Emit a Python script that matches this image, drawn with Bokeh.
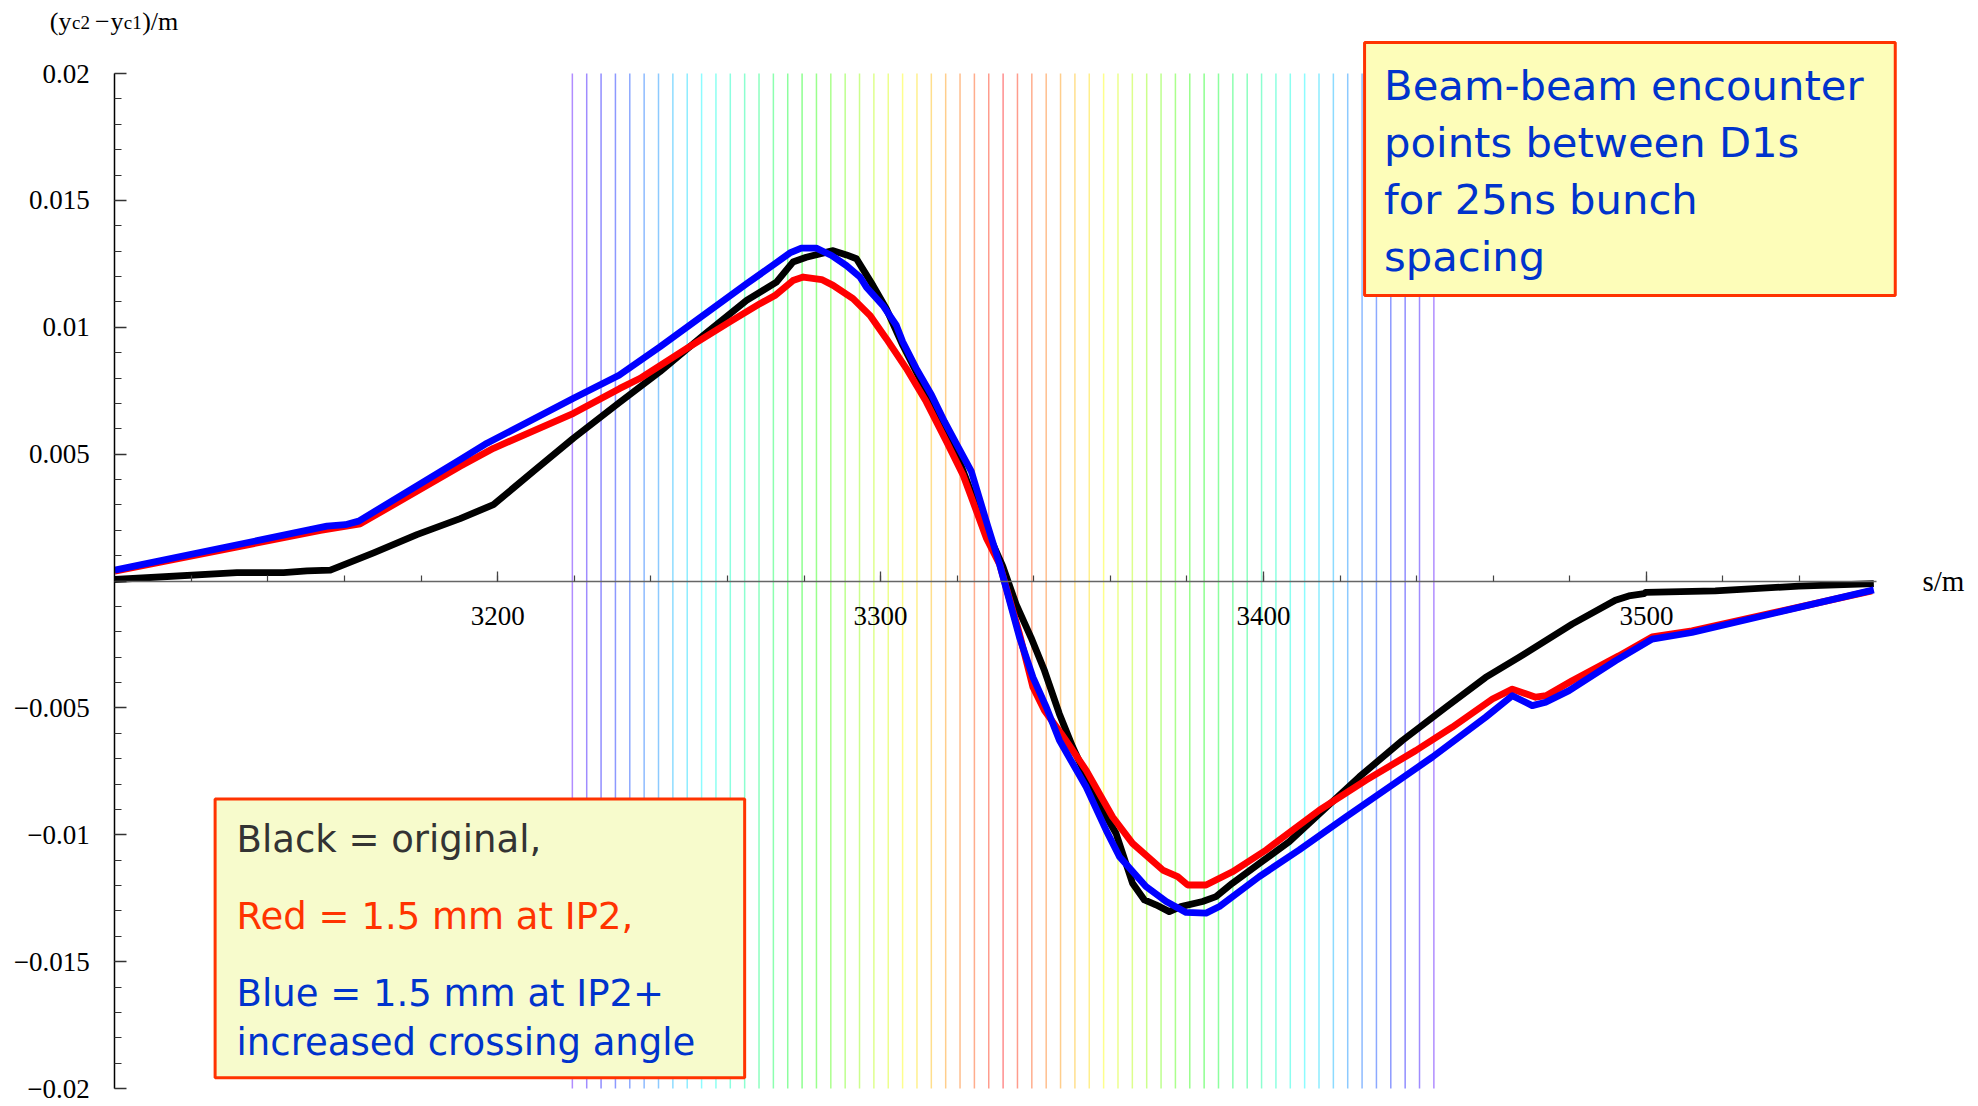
import colorsys
from bokeh.plotting import figure
from bokeh.models import (Range1d, LinearAxis, FixedTicker, CustomJSTickFormatter,
                          Label, ColumnDataSource)
from bokeh.core.properties import value
from bokeh.embed import file_html
from bokeh.resources import INLINE

# ---------------- data (s in m, separation in m) ----------------
black_s = [3100, 3131.9, 3144.1, 3150.2, 3156.3, 3167.6, 3178.9, 3190.2, 3198.9, 3209.3,
           3219.8, 3231.5, 3242.4, 3253.7, 3265.0, 3272.8, 3277.1, 3280.6, 3284.1, 3287.6,
           3291.1, 3293.7, 3298.0, 3301.5, 3305.8, 3310.2, 3315.4, 3320.6, 3325.9, 3331.9,
           3335.4, 3339.3, 3342.8, 3346.7, 3350.2, 3354.6, 3358.0, 3361.5, 3365.8, 3368.9,
           3371.9, 3375.4, 3378.4, 3384.1, 3387.6, 3391.9, 3398.9, 3406.7, 3414.6, 3425.0,
           3436.3, 3447.6, 3458.0, 3466.7, 3480.6, 3491.9, 3495.4, 3499.4, 3499.8, 3518.0,
           3539.8, 3559.4]
black_y = [0.00006, 0.00033, 0.00033, 0.00040, 0.00043, 0.00111, 0.00183, 0.00246, 0.00301, 0.00432,
           0.00563, 0.00700, 0.00825, 0.00968, 0.01106, 0.01178, 0.01257, 0.01276, 0.01289, 0.01302,
           0.01285, 0.01270, 0.01165, 0.01073, 0.00929, 0.00798, 0.00628, 0.00471, 0.00262, 0.00059,
           -0.00092, -0.00223, -0.00353, -0.00524, -0.00655, -0.00799, -0.00903, -0.00995, -0.01191, -0.01257,
           -0.01276, -0.01303, -0.01283, -0.01263, -0.01244, -0.01191, -0.01113, -0.01028, -0.00917, -0.00772,
           -0.00628, -0.00498, -0.00380, -0.00301, -0.00170, -0.00076, -0.00059, -0.00050, -0.00045, -0.00039,
           -0.00020, -0.00010]

red_s = [3100, 3153.7, 3164.1, 3190.2, 3198.9, 3219.8, 3231.9, 3237.1, 3249.3, 3260.6,
         3268.5, 3272.4, 3277.1, 3279.8, 3284.6, 3287.6, 3292.8, 3297.2, 3301.5, 3306.7,
         3311.9, 3317.2, 3321.5, 3324.1, 3327.6, 3331.1, 3336.3, 3339.8, 3342.8, 3347.2,
         3353.7, 3360.6, 3365.8, 3373.7, 3377.6, 3380.2, 3385.0, 3391.9, 3400.7, 3414.6,
         3426.8, 3439.8, 3449.3, 3459.8, 3465.0, 3471.1, 3473.8, 3480.6, 3492.8, 3501.5,
         3511.9, 3558.9]
red_y = [0.00039, 0.00199, 0.00225, 0.00452, 0.00523, 0.00661, 0.00759, 0.00798, 0.00916, 0.01021,
         0.01093, 0.01125, 0.01184, 0.01198, 0.01188, 0.01165, 0.01113, 0.01047, 0.00955, 0.00838,
         0.00707, 0.00550, 0.00419, 0.00314, 0.00170, 0.00065, -0.00210, -0.00419, -0.00510, -0.00602,
         -0.00746, -0.00930, -0.01034, -0.01139, -0.01165, -0.01198, -0.01198, -0.01146, -0.01060, -0.00903,
         -0.00785, -0.00668, -0.00576, -0.00465, -0.00426, -0.00458, -0.00452, -0.00393, -0.00295, -0.00220,
         -0.00196, -0.00039]

blue_s = [3100, 3155.4, 3160.2, 3163.7, 3190.2, 3197.2, 3219.8, 3231.7, 3242.4, 3253.7,
          3265.0, 3272.4, 3276.3, 3279.3, 3283.2, 3287.2, 3291.1, 3294.6, 3296.3, 3300.6,
          3304.1, 3305.8, 3309.3, 3313.3, 3316.7, 3320.2, 3323.7, 3327.6, 3331.1, 3336.3,
          3339.8, 3343.3, 3346.7, 3353.7, 3358.9, 3362.4, 3369.3, 3374.6, 3379.8, 3385.0,
          3388.5, 3398.9, 3409.3, 3421.5, 3435.4, 3444.1, 3458.0, 3465.0, 3470.2, 3473.7,
          3479.8, 3492.0, 3501.5, 3511.9, 3559.4]
blue_y = [0.00043, 0.00216, 0.00222, 0.00236, 0.00478, 0.00543, 0.00720, 0.00811, 0.00923, 0.01047,
          0.01171, 0.01250, 0.01293, 0.01312, 0.01312, 0.01283, 0.01243, 0.01198, 0.01158, 0.01086,
          0.01008, 0.00942, 0.00838, 0.00733, 0.00628, 0.00530, 0.00432, 0.00236, 0.00065, -0.00223,
          -0.00380, -0.00498, -0.00628, -0.00812, -0.00982, -0.01087, -0.01204, -0.01263, -0.01306, -0.01309,
          -0.01283, -0.01165, -0.01060, -0.00930, -0.00785, -0.00694, -0.00537, -0.00452, -0.00491, -0.00478,
          -0.00432, -0.00314, -0.00229, -0.00203, -0.00035]

# beam-beam encounter points (every 3.75 m around IP2 for 25 ns spacing)
ip2_s = 3332.0
encounter_spacing = 3.75
n_side = 30
encounter_k = list(range(-n_side, n_side + 1))
encounter_s = [ip2_s + encounter_spacing * k for k in encounter_k]

x_ticks = [3200, 3300, 3400, 3500]
x_tick_labels = ["3200", "3300", "3400", "3500"]
x_minor = [3120 + 20 * i for i in range(22)]
y_ticks = [-0.02, -0.015, -0.01, -0.005, 0.0, 0.005, 0.01, 0.015, 0.02]
y_tick_labels = ["\u22120.02", "\u22120.015", "\u22120.01", "\u22120.005", "",
                 "0.005", "0.01", "0.015", "0.02"]
y_minor = [round(-0.02 + 0.001 * i, 3) for i in range(41)]

box1_lines = ["Beam-beam encounter", "points between D1s", "for 25ns bunch", "spacing"]
box2_lines = ["Black = original,", "Red = 1.5 mm at IP2,", "Blue = 1.5 mm at IP2+",
              "increased crossing angle"]
box2_colors = ["#333333", "#ff3300", "#0033cc", "#0033cc"]

# ---------------- layout constants ----------------
X_START, X_END = 3070.15, 3584.65
Y_BOT, Y_TOP = -0.020709, 0.022877

p = figure(width=1970, height=1106, x_range=Range1d(X_START, X_END), y_range=Range1d(Y_BOT, Y_TOP),
           output_backend="svg", toolbar_location=None,
           x_axis_location=None, y_axis_location=None, min_border=0,
           min_border_left=0, min_border_right=0, min_border_top=0, min_border_bottom=0,
           outline_line_color=None, background_fill_color="white", border_fill_color="white")
p.xgrid.visible = False
p.ygrid.visible = False

fmt_code = """
let best = 0, bd = Infinity;
for (let i = 0; i < vals.length; i++) {
  const d = Math.abs(vals[i] - tick);
  if (d < bd) { bd = d; best = i; }
}
return labs[best];
"""

yaxis = LinearAxis(fixed_location=3100,
                   ticker=FixedTicker(ticks=y_ticks, minor_ticks=y_minor),
                   formatter=CustomJSTickFormatter(args=dict(vals=y_ticks, labs=y_tick_labels), code=fmt_code),
                   bounds=(-0.02, 0.02))
yaxis.axis_line_color = "black"
yaxis.axis_line_width = 1.5
yaxis.major_tick_in = 12
yaxis.major_tick_out = 0
yaxis.minor_tick_in = 7
yaxis.minor_tick_out = 0
yaxis.major_tick_line_color = "#333333"
yaxis.minor_tick_line_color = "#333333"
yaxis.major_tick_line_width = 1.3
yaxis.minor_tick_line_width = 1.2
yaxis.major_label_standoff = 25
yaxis.major_label_text_font = "Liberation Serif"
yaxis.major_label_text_font_size = "27px"
yaxis.major_label_text_color = "black"
p.add_layout(yaxis, "left")

xaxis = LinearAxis(fixed_location=0,
                   ticker=FixedTicker(ticks=x_ticks, minor_ticks=x_minor),
                   formatter=CustomJSTickFormatter(args=dict(vals=x_ticks, labs=x_tick_labels), code=fmt_code),
                   bounds=(3100, 3560))
xaxis.axis_line_color = "#666666"
xaxis.axis_line_width = 1.5
xaxis.major_tick_in = 10
xaxis.major_tick_out = 0
xaxis.minor_tick_in = 6
xaxis.minor_tick_out = 0
xaxis.major_tick_line_color = "#444444"
xaxis.minor_tick_line_color = "#444444"
xaxis.major_tick_line_width = 1.3
xaxis.minor_tick_line_width = 1.2
xaxis.major_label_standoff = 26
xaxis.major_label_text_font = "Liberation Serif"
xaxis.major_label_text_font_size = "27px"
xaxis.major_label_text_color = "black"
p.add_layout(xaxis, "below")

# encounter lines, hue from red at IP2 to violet at the ends
def hue_hex(k):
    h = abs(k) / n_side * 0.72
    r, g, b = colorsys.hsv_to_rgb(h, 1.0, 1.0)
    return "#%02x%02x%02x" % (int(r * 255), int(g * 255), int(b * 255))

enc_src = ColumnDataSource(dict(s=encounter_s, c=[hue_hex(k) for k in encounter_k],
                                lo=[-0.02] * len(encounter_s), hi=[0.02] * len(encounter_s)))
p.segment(x0="s", y0="lo", x1="s", y1="hi", source=enc_src,
          line_color="c", line_width=1.5, line_alpha=0.45)

# curves
p.line(black_s, black_y, line_color="black", line_width=6.8, line_join="round")
p.line(red_s, red_y, line_color="#ff0000", line_width=6.8, line_join="round")
p.line(blue_s, blue_y, line_color="#0000ff", line_width=6.8, line_join="round")

# annotation boxes
p.quad(left=[3426.4], right=[3565.0], top=[0.021222], bottom=[0.011251],
       fill_color="#fdfdb9", line_color="#ff3300", line_width=3)
p.text(x=[3431.5] * 4, y=[0.019527, 0.017282, 0.015036, 0.012790], text=box1_lines,
       text_color="#0033cc", text_font=value("DejaVu Sans"), text_font_size="41.7px",
       text_baseline="alphabetic", text_align="left")

p.quad(left=[3126.2], right=[3264.5], top=[-0.008591], bottom=[-0.019578],
       fill_color="#f7fbcc", line_color="#ff3300", line_width=3)
p.text(x=[3131.8] * 4, y=[-0.010187, -0.013222, -0.016256, -0.018187], text=box2_lines,
       text_color=box2_colors, text_font=value("DejaVu Sans"), text_font_size="37px",
       text_baseline="alphabetic", text_align="left")

# axis titles
p.add_layout(Label(x=3572.1, y=0.0, text="s/m", text_font="Liberation Serif",
                   text_font_size="29px", text_baseline="middle", text_align="left",
                   text_color="black"))
ylab_y = 0.022068
for xx, tt, fs, dy in [(3083.02, "(y", "26px", 0.0), (3088.82, "c2", "19px", -0.00006),
                       (3094.83, "\u2212", "26px", 0.0), (3098.88, "y", "26px", 0.0),
                       (3102.35, "c1", "19px", -0.00006), (3107.16, ")/m", "26px", 0.0)]:
    p.add_layout(Label(x=xx, y=ylab_y + dy, text=tt, text_font="Liberation Serif",
                       text_font_size=fs, text_baseline="alphabetic", text_align="left",
                       text_color="black"))

open("out.html", "w").write(file_html(p, INLINE))
